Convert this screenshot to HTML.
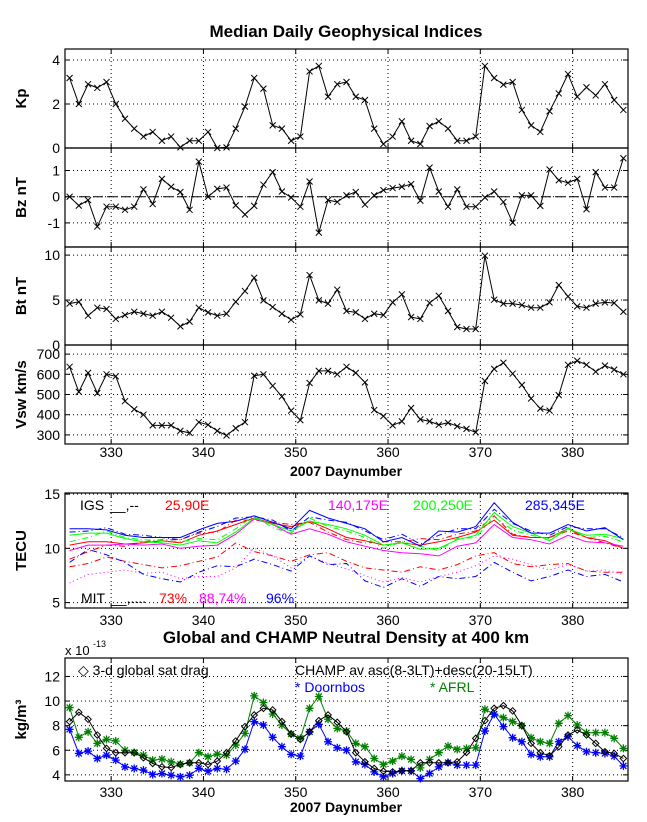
<!DOCTYPE html>
<html><head><meta charset="utf-8"><style>
html,body{margin:0;padding:0;background:#fff;}
svg{display:block;font-family:"Liberation Sans",Arial,sans-serif;}
</style></head><body>
<svg id="fig" width="647" height="822" viewBox="0 0 647 822" xmlns="http://www.w3.org/2000/svg">
<rect x="0" y="0" width="647" height="822" fill="#fff"/>
<text x="346" y="37" text-anchor="middle" font-weight="bold" font-size="17">Median Daily Geophysical Indices</text>
<text x="346" y="643" text-anchor="middle" font-weight="bold" font-size="17">Global and CHAMP Neutral Density at 400 km</text>
</svg>
<script>
// ---- data (daily medians, day 325.5 + i) ----
const kpVals=[3.18,2.0,2.9,2.73,3.0,2.0,1.33,0.88,0.52,0.73,0.33,0.52,0.03,0.33,0.33,0.73,0,0.03,0.88,1.88,3.18,2.7,1.03,0.88,0.33,0.52,3.48,3.73,2.33,2.9,3.0,2.33,2.18,0.88,0.18,0.52,1.21,0.33,0.18,1.0,1.21,0.88,0.33,0.33,0.52,3.73,3.18,2.88,3.0,1.73,1.03,0.73,1.67,2.48,3.36,2.33,2.76,2.39,2.9,2.18,1.73];
const bzVals=[0,-0.34,-0.13,-1.14,-0.38,-0.38,-0.5,-0.38,0.28,-0.28,0.68,0.38,0.18,-0.5,1.34,0,0.3,0.35,-0.33,-0.68,-0.35,0.46,0.94,0.2,-0.03,-0.38,0.58,-1.37,-0.13,-0.2,0.05,0.18,-0.3,0.05,0.25,0.33,0.38,0.48,-0.15,1.11,0.2,-0.38,0.28,-0.38,-0.38,-0.03,0.2,-0.2,-0.99,0.05,0.05,-0.35,1.04,0.63,0.53,0.68,-0.48,0.94,0.35,0.35,1.47];
const btVals=[4.6,4.8,3.26,4.15,4.0,2.9,3.33,3.7,3.48,3.26,3.7,3.04,2.07,2.6,4.15,3.63,3.26,3.48,4.8,6.0,7.48,4.96,4.22,3.48,2.8,3.4,7.78,4.96,4.6,6.15,3.78,3.63,2.9,3.48,3.33,4.74,5.63,3.1,2.9,4.67,5.48,3.78,2.0,1.78,1.78,9.93,5.04,4.6,4.6,4.44,4.15,4.15,4.74,6.67,5.4,4.3,4.15,4.6,4.74,4.67,3.7];
const vswVals=[637,513,607,507,600,590,467,427,400,347,347,347,320,310,363,350,320,297,333,363,593,600,543,490,420,373,557,617,617,600,637,607,560,423,393,347,367,433,377,367,350,360,343,330,313,567,627,657,603,547,480,430,420,497,647,667,647,613,643,623,600];
const densGlobal=[8.33,9.09,8.52,7.24,6.15,5.8,5.8,5.8,5.39,4.93,4.65,4.6,4.84,4.98,4.98,4.84,5.12,5.8,6.75,7.92,8.87,9.41,9.28,8.33,7.32,6.88,7.5,8.41,8.87,8.27,7.5,5.8,5.06,4.52,4.3,4.24,4.33,4.33,4.98,4.98,4.98,4.98,5.06,5.82,6.97,8.41,9.41,9.63,9.2,8.0,6.56,5.8,5.55,6.29,7.24,7.65,7.24,6.56,5.88,5.74,5.33];
const densDoornbos=[7.7,5.74,5.93,5.33,5.6,5.2,4.65,4.52,4.38,4.03,4.11,3.97,3.84,3.97,4.52,4.3,4.52,4.46,5.12,6.07,8.33,8.05,7.05,6.29,5.66,5.52,7.5,8.11,6.69,6.2,6.0,5.06,4.84,4.24,3.84,4.11,4.33,4.33,3.7,4.11,4.65,5.0,4.79,4.79,4.79,7.56,8.93,7.92,7.02,6.69,5.66,5.47,5.47,6.69,7.1,6.37,5.88,5.8,5.74,5.52,4.73];
const densAFRL=[9.47,7.05,7.5,6.56,6.88,6.75,6.0,5.82,5.6,5.2,5.28,5.06,4.87,4.98,5.8,5.47,5.69,5.6,6.42,7.37,10.42,9.88,8.95,8.05,7.32,6.97,9.41,10.37,8.52,7.78,7.56,6.56,6.29,5.33,4.84,5.12,5.52,5.25,4.57,5.25,5.8,6.34,6.07,6.15,6.2,9.33,8.93,8.65,8.33,8.0,7.02,6.69,6.56,8.19,8.82,8.05,7.43,7.43,7.43,6.97,6.15];
// TEC (every 2 days from 325.5)
const tecIgsRed=[10.3,10.6,10.6,10.4,10.5,10.7,10.5,11.2,11.6,12.2,12.8,12.3,12.0,12.5,11.8,11.0,10.7,10.3,10.5,10.3,10.6,11.0,11.5,12.6,11.2,11.0,11.0,11.8,11.0,10.7,10.0];
const tecIgsRedB=[9.0,9.7,10.3,10.2,10.6,10.8,10.8,11.4,11.5,12.6,12.6,12.4,12.2,12.4,11.5,10.8,10.5,10.6,10.6,10.9,10.8,11.3,11.6,13.0,11.3,11.0,11.0,11.6,11.0,10.5,10.0];
const tecIgsMag=[9.8,10.3,10.3,10.4,10.3,10.4,10.0,10.2,10.3,11.3,12.7,12.2,11.3,11.8,11.3,10.6,10.2,9.8,9.6,9.5,9.3,10.2,10.5,12.2,11.0,10.8,10.4,11.2,10.6,10.5,10.2];
const tecIgsGreen=[11.2,11.4,11.4,10.9,10.6,10.5,10.3,10.7,10.5,11.5,12.8,12.2,11.6,12.5,12.2,11.8,11.2,10.3,10.5,9.9,10.0,10.8,11.2,13.3,12.0,11.4,10.7,11.8,11.2,11.3,10.9];
const tecIgsGreenB=[10.6,11.0,11.6,11.0,10.8,10.7,10.6,10.9,10.8,11.8,13.0,11.9,11.4,12.8,12.0,11.6,11.0,10.0,10.6,10.2,9.8,10.9,11.0,12.9,11.7,11.2,10.9,11.9,11.0,11.1,10.6];
const tecIgsBlue=[11.8,11.8,11.7,11.2,11.0,11.0,11.0,11.7,12.3,12.5,13.0,12.4,11.8,13.5,12.8,12.3,11.8,10.6,11.0,10.2,11.6,11.5,12.0,14.2,12.4,11.4,11.4,12.2,11.6,11.9,10.8];
const tecIgsBlueB=[11.5,11.6,11.9,11.3,11.2,11.0,10.8,11.5,12.0,12.8,12.9,12.6,11.6,12.9,12.6,12.4,11.6,10.8,11.3,10.4,11.2,11.8,11.8,13.6,12.3,11.6,11.2,12.0,11.8,11.8,11.0];
const tecMitRed=[8.3,8.6,9.2,8.8,8.5,8.2,8.4,8.8,9.2,10.5,9.7,9.3,8.8,9.4,9.6,8.8,8.2,8.0,7.8,8.3,8.0,8.5,9.3,9.6,8.6,8.3,8.5,8.6,7.9,7.8,7.8];
const tecMitMag=[6.8,7.6,7.8,8.0,7.7,7.8,7.2,7.4,7.4,8.2,10.0,9.3,8.2,9.3,8.6,8.1,7.5,6.9,7.3,6.9,7.4,7.8,8.4,9.3,9.0,8.5,8.0,8.5,7.9,8.0,7.6];
const tecMitBlue=[8.7,9.9,9.4,8.7,7.6,7.2,6.9,7.8,8.4,8.3,9.0,8.5,7.9,9.3,8.5,8.6,7.0,6.4,7.2,6.5,7.4,7.2,7.4,8.7,7.8,7.0,7.4,8.0,7.4,7.6,6.9];
const xTicks=[330,340,350,360,370,380];

const NS="http://www.w3.org/2000/svg";
const svg=document.getElementById('fig');
const L=65,R=628,X0=325,X1=386;
function xs(d){return L+(d-X0)*(R-L)/(X1-X0);}
function mk(tag,attrs,parent){const e=document.createElementNS(NS,tag);for(const k in attrs)e.setAttribute(k,attrs[k]);(parent||svg).appendChild(e);return e;}
function txt(s,x,y,attrs,parent){const t=mk('text',Object.assign({x:x,y:y,'font-size':13},attrs||{}),parent);t.textContent=s;return t;}

function panel(name,top,bot,y0,y1,yticks,ylabel,showX){
  const ys=v=>bot-(v-y0)*(bot-top)/(y1-y0);
  const g=mk('g',{});
  
  
  xTicks.forEach(t=>{
    const l=mk('line',{x1:xs(t),x2:xs(t),y1:top,y2:bot,stroke:'#000','stroke-width':1,'stroke-dasharray':'1,3'},g);
    
    mk('line',{x1:xs(t),x2:xs(t),y1:bot,y2:bot-5,stroke:'#000'},g);
    mk('line',{x1:xs(t),x2:xs(t),y1:top,y2:top+5,stroke:'#000'},g);
    if(showX){const tl=txt(String(t),xs(t),showX,{'text-anchor':'middle','font-size':14},g);
      }
  });
  yticks.forEach(t=>{
    const y=ys(t);
    if(Math.abs(y-bot)>1&&Math.abs(y-top)>1){
      const l=mk('line',{x1:L,x2:R,y1:y,y2:y,stroke:'#000','stroke-dasharray':'1,3'},g);
      }
    mk('line',{x1:L,x2:L+5,y1:y,y2:y,stroke:'#000'},g);
    mk('line',{x1:R,x2:R-5,y1:y,y2:y,stroke:'#000'},g);
    const tl=txt(String(t),60,y+5,{'text-anchor':'end','font-size':14},g);
    
  });
  const r=mk('rect',{x:L,y:top,width:R-L,height:bot-top,fill:'none',stroke:'#000','stroke-width':1.2},g);
  
  const cy=(top+bot)/2;
  const yl=txt(ylabel,26,cy,{'text-anchor':'middle','font-size':15,'font-weight':'bold',transform:'rotate(-90 26 '+cy+')'},g);
  
  return {ys:ys,g:g};
}
function series(p,days,vals,color,dash,marker,name){
  const pts=vals.map((v,i)=>[xs(days[i]),p.ys(v)]);
  const pl=mk('polyline',{points:pts.map(q=>q[0].toFixed(1)+','+q[1].toFixed(1)).join(' '),fill:'none',stroke:color,'stroke-width':1,'stroke-dasharray':dash||'none'},p.g);
  
  if(marker){pts.forEach(q=>{
    let m;
    if(marker==='x'){m=mk('path',{d:`M${q[0]-3},${q[1]-3}L${q[0]+3},${q[1]+3}M${q[0]-3},${q[1]+3}L${q[0]+3},${q[1]-3}`,stroke:color,'stroke-width':1},p.g);}
    else if(marker==='d'){m=mk('path',{d:`M${q[0]},${q[1]-3.2}L${q[0]+3.2},${q[1]}L${q[0]},${q[1]+3.2}L${q[0]-3.2},${q[1]}Z`,stroke:color,fill:'none','stroke-width':1},p.g);}
    else {m=mk('path',{d:`M${q[0]-4},${q[1]}L${q[0]+4},${q[1]}M${q[0]},${q[1]-4}L${q[0]},${q[1]+4}M${q[0]-3},${q[1]-3}L${q[0]+3},${q[1]+3}M${q[0]-3},${q[1]+3}L${q[0]+3},${q[1]-3}`,stroke:color,'stroke-width':1.3},p.g);}
    
  });}
}
const days=kpVals.map((v,i)=>325.5+i);
const tecDays=tecIgsRed.map((v,i)=>325.5+2*i);

const pKp=panel('kp',49,148,0,4.5,[0,2,4],'Kp',0);
series(pKp,days,kpVals,'#000',null,'x','kp');
const pBz=panel('bz',148,247,-1.92,1.86,[-1,0,1],'Bz nT',0);
const z=mk('line',{x1:L,x2:R,y1:pBz.ys(0),y2:pBz.ys(0),stroke:'#000','stroke-dasharray':'10,4'},pBz.g);

series(pBz,days,bzVals,'#000',null,'x','bz');
const pBt=panel('bt',247,345,0,10.9,[0,5,10],'Bt nT',0);
series(pBt,days,btVals,'#000',null,'x','bt');
const pV=panel('vsw',345,444,255,745,[300,400,500,600,700],'Vsw km/s',457);
series(pV,days,vswVals,'#000',null,'x','vsw');
const xl1=txt('2007 Daynumber',346,476,{'text-anchor':'middle','font-weight':'bold','font-size':14});


const pT=panel('tec',493,608,4.5,15.1,[5,10,15],'TECU',625);
series(pT,tecDays,tecIgsRed,'#f00',null,null,'tec-igs-red');
series(pT,tecDays,tecIgsRedB,'#f00','6,3,1,3',null,'tec-igs-red-b');
series(pT,tecDays,tecIgsMag,'#f0f',null,null,'tec-igs-magenta');
series(pT,tecDays,tecIgsGreen,'#0f0',null,null,'tec-igs-green');
series(pT,tecDays,tecIgsGreenB,'#0f0','6,3,1,3',null,'tec-igs-green-b');
series(pT,tecDays,tecIgsBlue,'#00f',null,null,'tec-igs-blue');
series(pT,tecDays,tecIgsBlueB,'#00f','6,3,1,3',null,'tec-igs-blue-b');
series(pT,tecDays,tecMitRed,'#f00','6,3,1,3',null,'tec-mit-red');
series(pT,tecDays,tecMitMag,'#f0f','1,3',null,'tec-mit-magenta');
series(pT,tecDays,tecMitBlue,'#00f','6,3,1,3',null,'tec-mit-blue');
[['IGS',80,510,'#000'],['__,--',110,510,'#000'],['25,90E',165,510,'#f00'],['140,175E',328,510,'#f0f'],['200,250E',413,510,'#0f0'],['285,345E',525,510,'#00f'],
 ['MIT',81,603,'#000'],['__,....',111,603,'#000'],['73%',159,603,'#f00'],['88,74%',199,603,'#f0f'],['96%',266,603,'#00f']].forEach(a=>{
  const t=txt(a[0],a[1],a[2],{fill:a[3],'font-size':14});
  
});

const pD=panel('density',658,781,3.5,13.5,[4,6,8,10,12],'kg/m³',797);
series(pD,days,densAFRL,'#008000',null,'*','density-afrl');
series(pD,days,densDoornbos,'#00f',null,'*','density-doornbos');
series(pD,days,densGlobal,'#000',null,'d','density-global');
const ex=txt('x 10',65,655,{'font-size':13});
const ex2=txt('-13',93,647,{'font-size':9});
[['◇ 3-d global sat drag',78,675,'#000'],['CHAMP av asc(8-3LT)+desc(20-15LT)',295,675,'#000'],['* Doornbos',295,692,'#00f'],['* AFRL',430,692,'#008000']].forEach(a=>{
  const t=txt(a[0],a[1],a[2],{fill:a[3],'font-size':14});
  
});
const xl2=txt('2007 Daynumber',346,812,{'text-anchor':'middle','font-weight':'bold','font-size':14});

</script>
</body></html>
